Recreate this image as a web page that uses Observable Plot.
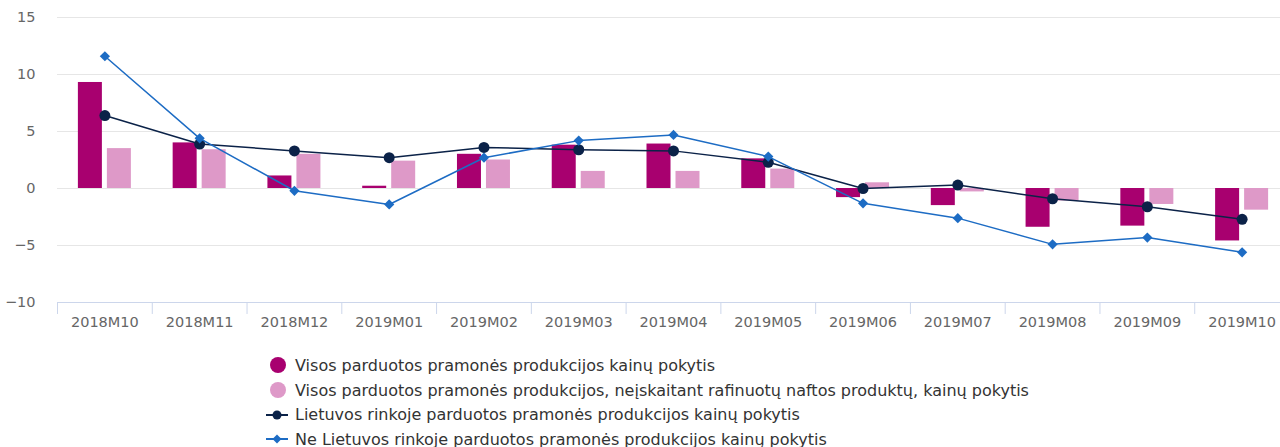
<!DOCTYPE html>
<html>
<head>
<meta charset="utf-8">
<script src="https://cdn.jsdelivr.net/npm/d3@7"></script>
<script src="https://cdn.jsdelivr.net/npm/@observablehq/plot@0.6"></script>
<style>
  html, body { margin: 0; padding: 0; background: #fff; }
  body { width: 1280px; height: 447px; overflow: hidden; font-family: "DejaVu Sans", sans-serif; }
  #chart { width: 1280px; overflow: hidden; }
  #chart svg { display: block; }
  #legend { position: relative; margin-left: 264px; padding-top: 13px; }
  .item { display: flex; align-items: center; height: 24.7px; font-size: 16px; color: #333; white-space: nowrap; }
  .item svg { margin-right: 5px; flex: none; }
</style>
</head>
<body>
<div id="chart"></div>
<div id="legend"></div>
<script>
const months = ["2018M10","2018M11","2018M12","2019M01","2019M02","2019M03","2019M04","2019M05","2019M06","2019M07","2019M08","2019M09","2019M10"];
const visos = [9.3, 4.0, 1.1, 0.2, 3.0, 3.8, 3.9, 2.6, -0.8, -1.5, -3.4, -3.3, -4.6];
const visosBeNaftos = [3.5, 3.4, 3.0, 2.4, 2.5, 1.5, 1.5, 1.7, 0.5, -0.3, -1.1, -1.4, -1.9];
const lietuvos = [6.4, 3.9, 3.3, 2.7, 3.6, 3.4, 3.3, 2.3, 0.0, 0.3, -0.9, -1.6, -2.7];
const neLietuvos = [11.6, 4.4, -0.2, -1.4, 2.7, 4.2, 4.7, 2.8, -1.3, -2.6, -4.9, -4.3, -5.6];
const yTicks = [-10, -5, 0, 5, 10, 15];
const seriesNames = [
  "Visos parduotos pramonės produkcijos kainų pokytis",
  "Visos parduotos pramonės produkcijos, neįskaitant rafinuotų naftos produktų, kainų pokytis",
  "Lietuvos rinkoje parduotos pramonės produkcijos kainų pokytis",
  "Ne Lietuvos rinkoje parduotos pramonės produkcijos kainų pokytis"
];
const colors = ["#a8006f", "#de99c8", "#0b2248", "#1d6cc4"];

const W = 1290, H = 340, mL = 57, mR = 1;
const bw = (W - mL - mR) / months.length;
const barW = 24, gap = 5;
const outer = (bw - 2 * barW - gap) / 2;

const chart = Plot.plot({
  width: W,
  height: H,
  marginLeft: mL,
  marginRight: mR,
  marginTop: 17,
  marginBottom: 38,
  style: { fontFamily: "DejaVu Sans, sans-serif", fontSize: "14.5px", color: "#666", maxWidth: "none" },
  x: { type: "band", domain: months, padding: 0, round: false, label: null },
  y: { domain: [-10, 15], label: null },
  marks: [
    Plot.ruleY(yTicks.filter(d => d > -10), { stroke: "#e6e6e6", strokeWidth: 1 }),
    Plot.barY(months, { x: months, y1: 0, y2: visos, fill: colors[0], insetLeft: outer, insetRight: bw - outer - barW }),
    Plot.barY(months, { x: months, y1: 0, y2: visosBeNaftos, fill: colors[1], insetLeft: outer + barW + gap, insetRight: outer }),
    Plot.ruleY([-10], { stroke: "#ccd6eb", strokeWidth: 1 }),
    Plot.ruleX(months, { x: months, dx: -bw / 2, y1: -10, y2: -11.05, stroke: "#ccd6eb" }),
    Plot.axisY({ ticks: yTicks, tickSize: 0, tickPadding: 22, fill: "#666", fontSize: 14.5 }),
    Plot.axisX({ tickSize: 0, tickPadding: 14, fill: "#666", fontSize: 14.5 }),
    Plot.line(months, { x: months, y: lietuvos, stroke: colors[2], strokeWidth: 1.5 }),
    Plot.dot(months, { x: months, y: lietuvos, fill: colors[2], r: 5.5, stroke: null }),
    Plot.line(months, { x: months, y: neLietuvos, stroke: colors[3], strokeWidth: 1.5 }),
    Plot.dot(months, { x: months, y: neLietuvos, fill: colors[3], r: 4.6, symbol: "diamond2", stroke: null })
  ]
});
document.getElementById("chart").appendChild(chart);

const legend = document.getElementById("legend");
seriesNames.forEach((name, i) => {
  const row = document.createElement("div");
  row.className = "item";
  let icon;
  if (i < 2) {
    icon = `<svg width="26" height="18"><circle cx="14" cy="9" r="8" fill="${colors[i]}"/></svg>`;
  } else if (i === 2) {
    icon = `<svg width="26" height="18"><line x1="2" y1="9" x2="24" y2="9" stroke="${colors[i]}" stroke-width="2"/><circle cx="13" cy="9" r="4.5" fill="${colors[i]}"/></svg>`;
  } else {
    icon = `<svg width="26" height="18"><line x1="2" y1="9" x2="24" y2="9" stroke="${colors[i]}" stroke-width="2"/><path d="M13 4.5 L17.5 9 L13 13.5 L8.5 9 Z" fill="${colors[i]}"/></svg>`;
  }
  row.innerHTML = icon + `<span>${name}</span>`;
  legend.appendChild(row);
});
</script>
</body>
</html>
